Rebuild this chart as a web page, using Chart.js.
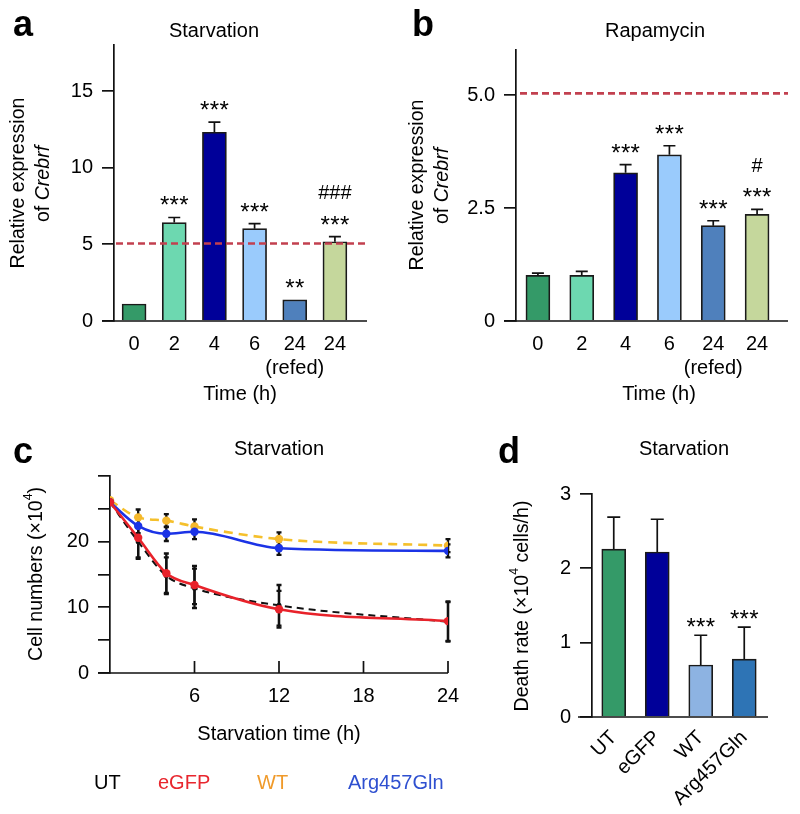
<!DOCTYPE html>
<html><head><meta charset="utf-8">
<script src="https://cdn.jsdelivr.net/npm/chart.js@4.4.1/dist/chart.umd.min.js"></script>
<style>
html,body{margin:0;padding:0;background:#fff;}
#wrap{position:relative;width:800px;height:814px;overflow:hidden;background:#fff;}
canvas{position:absolute;}
</style></head><body>
<div id="wrap">
<canvas id="ca" width="400" height="410" style="left:0;top:0"></canvas>
<canvas id="cb" width="400" height="410" style="left:400px;top:0"></canvas>
<canvas id="cc" width="480" height="404" style="left:0;top:410px"></canvas>
<canvas id="cd" width="320" height="404" style="left:480px;top:410px"></canvas>
</div>
<script>
// ---------- data ----------
// panel a (starvation) & b (rapamycin)
const timeLabels = ['0', '2', '4', '6', ['24', '(refed)'], '24'];
const starvationExpr = [1.11, 6.42, 12.31, 6.02, 1.38, 5.17];
const starvationErr  = [0, 0.33, 0.66, 0.33, 0, 0.33];
const starvationSig  = ['', '***', '***', '***', '**', '***'];
const starvationSig2 = ['', '', '', '', '', '###'];
const starvationRef  = 5.05;
const starvationYTicks = [0, 5, 10, 15];

const rapamycinExpr = [1.01, 1.01, 3.28, 3.68, 2.11, 2.36];
const rapamycinErr  = [0.05, 0.09, 0.18, 0.20, 0.11, 0.11];
const rapamycinSig  = ['', '', '***', '***', '***', '***'];
const rapamycinSig2 = ['', '', '', '', '', '#'];
const rapamycinRef  = 5.04;
const rapamycinYTicks = [0, 2.5, 5.0];
const rapamycinYLabels = ['0', '2.5', '5.0'];

// panel c (cell numbers)
const starvationHours = [0, 2, 4, 6, 12, 24];
const cellsUT     = [26.0, 20.0, 14.8, 12.9, 10.3, 7.8];
const cellsUTErr  = [0.4, 2.6, 2.8, 3.0, 3.1, 3.0];
const cellsEGFP   = [26.0, 20.6, 15.2, 13.4, 9.7, 7.9];
const cellsEGFPErr= [0.4, 3.0, 3.0, 2.9, 2.8, 3.0];
const cellsWT     = [26.3, 23.7, 23.2, 22.3, 20.4, 19.4];
const cellsWTErr  = [0.4, 1.2, 1.0, 1.1, 1.0, 1.0];
const cellsArg    = [26.0, 22.4, 21.2, 21.5, 19.0, 18.6];
const cellsArgErr = [0.4, 1.1, 1.1, 1.1, 1.0, 1.0];
const cellXTicks = [6, 12, 18, 24];
const cellYTicks = [0, 5, 10, 15, 20, 25, 30];
const cellYLabelled = [0, 10, 20];

// panel d (death rate)
const groups = ['UT', 'eGFP', 'WT', 'Arg457Gln'];
const deathRate    = [2.26, 2.22, 0.70, 0.78];
const deathRateErr = [0.43, 0.44, 0.40, 0.43];
const deathSig     = ['', '', '***', '***'];
const deathYTicks  = [0, 1, 2, 3];

// ---------- style ----------
const FONT = '"Liberation Sans", Arial, Helvetica, sans-serif';
const colorsAB = ['#349a68', '#6dd8b0', '#000099', '#9acbfc', '#4f80bc', '#c5d79c'];
const colorsD  = ['#349a68', '#000099', '#8db3e2', '#2e74b5'];
const FS = 20;
const tickFont = {family: FONT, size: FS};

function font(size, weight, style) { return (style || 'normal') + ' ' + (weight || 'normal') + ' ' + size + 'px ' + FONT; }
function txt(ctx, s, x, y, o) {
  o = o || {};
  ctx.save();
  ctx.font = font(o.size || FS, o.weight, o.style);
  ctx.fillStyle = o.color || '#000';
  ctx.textAlign = o.align || 'center';
  ctx.textBaseline = o.baseline || 'alphabetic';
  ctx.fillText(s, x, y);
  ctx.restore();
}
function rich(ctx, parts, cx, cy, size) {
  ctx.save();
  ctx.translate(cx, cy);
  ctx.rotate(-Math.PI / 2);
  ctx.textAlign = 'left';
  ctx.textBaseline = 'middle';
  ctx.fillStyle = '#000';
  let total = 0;
  const ws = parts.map(p => { ctx.font = font(p.sup ? size * 0.62 : size, 'normal', p.italic ? 'italic' : 'normal'); const w = ctx.measureText(p.t).width; total += w; return w; });
  let x = -total / 2;
  parts.forEach((p, i) => {
    ctx.font = font(p.sup ? size * 0.62 : size, 'normal', p.italic ? 'italic' : 'normal');
    ctx.fillText(p.t, x, p.sup ? -size * 0.42 : 0);
    x += ws[i];
  });
  ctx.restore();
}
function stars(ctx, s, cx, centerY, size, spacing) {
  if (!s) return;
  ctx.save();
  ctx.font = font(size);
  ctx.fillStyle = '#000';
  ctx.textAlign = 'center';
  ctx.textBaseline = 'alphabetic';
  const n = s.length;
  for (let i = 0; i < n; i++) {
    const x = cx + (i - (n - 1) / 2) * spacing;
    ctx.fillText(s[i], x, centerY + 0.58 * size);
  }
  ctx.restore();
}
function barErrors(chart, values, errs, cap) {
  const ctx = chart.ctx, y = chart.scales.y, meta = chart.getDatasetMeta(0);
  ctx.save(); ctx.strokeStyle = '#111'; ctx.lineWidth = 1.7;
  meta.data.forEach((bar, i) => {
    if (!errs[i]) return;
    const top = y.getPixelForValue(values[i] + errs[i]);
    const base = y.getPixelForValue(values[i]);
    ctx.beginPath();
    ctx.moveTo(bar.x, base); ctx.lineTo(bar.x, top);
    ctx.moveTo(bar.x - cap / 2, top); ctx.lineTo(bar.x + cap / 2, top);
    ctx.stroke();
  });
  ctx.restore();
}
function barSig(chart, values, errs, sig, sig2, gap) {
  const ctx = chart.ctx, y = chart.scales.y, meta = chart.getDatasetMeta(0);
  meta.data.forEach((bar, i) => {
    const top = y.getPixelForValue(values[i] + (errs[i] || 0));
    const c = top - gap;
    stars(ctx, sig[i], bar.x, c, 24, 9.7);
    if (sig2 && sig2[i]) {
      ctx.save(); ctx.font = font(FS); ctx.textAlign = 'center'; ctx.fillStyle = '#000';
      ctx.fillText(sig2[i], bar.x, c - 27 + 0.36 * FS); ctx.restore();
    }
  });
}
function baseline(chart, extL, extR) {
  const ctx = chart.ctx, a = chart.chartArea, y = chart.scales.y.getPixelForValue(0);
  ctx.save(); ctx.strokeStyle = '#111'; ctx.lineWidth = 1.7;
  ctx.beginPath(); ctx.moveTo(a.left - extL, y); ctx.lineTo(a.right + extR, y); ctx.stroke();
  ctx.restore();
}
function refLine(chart, v, x0, extR) {
  const ctx = chart.ctx, a = chart.chartArea, y = chart.scales.y.getPixelForValue(v);
  ctx.save(); ctx.strokeStyle = '#c2404f'; ctx.lineWidth = 2.6; ctx.setLineDash([7, 4]);
  ctx.beginPath(); ctx.moveTo(a.left + x0, y); ctx.lineTo(a.right + extR, y); ctx.stroke();
  ctx.restore();
}

function yAxis(min, max, ticks, width, labels) {
  return {
    min: min, max: max,
    grid: {drawOnChartArea: false, drawTicks: true, tickLength: 12, color: '#111', lineWidth: 1.7},
    border: {display: true, color: '#111', width: 1.7},
    ticks: {font: tickFont, color: '#000', padding: 9,
      callback: labels ? labels : (v) => String(v)},
    afterBuildTicks: s => { s.ticks = ticks.map(v => ({value: v})); },
    afterFit: s => { s.width = width; }
  };
}
function xCat(height, extra) {
  return Object.assign({
    grid: {display: false, drawTicks: false},
    border: {display: false},
    ticks: {font: tickFont, color: '#000', padding: 11, maxRotation: 0, minRotation: 0, autoSkip: false},
    afterFit: s => { s.height = height; }
  }, extra || {});
}
const common = {responsive: false, animation: false, devicePixelRatio: 1,
  plugins: {legend: {display: false}, tooltip: {enabled: false}}};

// ---------- panel a ----------
new Chart(document.getElementById('ca'), {
  type: 'bar',
  data: {labels: timeLabels, datasets: [{data: starvationExpr, backgroundColor: colorsAB,
    borderColor: '#1a1a1a', borderWidth: 1.7, barThickness: 24}]},
  options: Object.assign({}, common, {
    layout: {padding: {left: 0, right: 45, top: 45, bottom: 0}},
    scales: {x: xCat(89), y: yAxis(0, 18, starvationYTicks, 114)}
  }),
  plugins: [{
    id: 'decoA',
    afterDatasetsDraw(chart) {
      baseline(chart, 12, 12);
      barErrors(chart, starvationExpr, starvationErr, 12);
      refLine(chart, starvationRef, 2, 12);
      barSig(chart, starvationExpr, starvationErr, starvationSig, starvationSig2, 18);
    },
    afterDraw(chart) {
      const ctx = chart.ctx;
      txt(ctx, 'a', 13, 36, {size: 36, weight: 'bold', align: 'left'});
      txt(ctx, 'Starvation', 214, 37);
      txt(ctx, 'Time (h)', 240, 400);
      rich(ctx, [{t: 'Relative expression'}], 19, 183, 19.6);
      rich(ctx, [{t: 'of '}, {t: 'Crebrf', italic: true}], 44, 184, 19.6);
    }
  }]
});

// ---------- panel b ----------
new Chart(document.getElementById('cb'), {
  type: 'bar',
  data: {labels: timeLabels, datasets: [{data: rapamycinExpr, backgroundColor: colorsAB,
    borderColor: '#1a1a1a', borderWidth: 1.7, barThickness: 24}]},
  options: Object.assign({}, common, {
    layout: {padding: {left: 0, right: 21, top: 50, bottom: 0}},
    scales: {x: xCat(89), y: yAxis(0, 6, rapamycinYTicks, 116,
      (v) => rapamycinYLabels[rapamycinYTicks.indexOf(v)])}
  }),
  plugins: [{
    id: 'decoB',
    afterDatasetsDraw(chart) {
      baseline(chart, 12, 9);
      barErrors(chart, rapamycinExpr, rapamycinErr, 12);
      refLine(chart, rapamycinRef, 4, 9);
      barSig(chart, rapamycinExpr, rapamycinErr, rapamycinSig, rapamycinSig2, 18);
    },
    afterDraw(chart) {
      const ctx = chart.ctx;
      txt(ctx, 'b', 12, 36, {size: 36, weight: 'bold', align: 'left'});
      txt(ctx, 'Rapamycin', 255, 37);
      txt(ctx, 'Time (h)', 259, 400);
      rich(ctx, [{t: 'Relative expression'}], 17.5, 185, 19.6);
      rich(ctx, [{t: 'of '}, {t: 'Crebrf', italic: true}], 42.5, 186, 19.6);
    }
  }]
});

// ---------- panel c ----------
function pts(ys) { return starvationHours.map((t, i) => ({x: t, y: ys[i]})); }
const cellSeries = [
  {label: 'UT', data: pts(cellsUT), err: cellsUTErr, borderColor: '#111', borderDash: [7, 5], borderWidth: 2,
   pointRadius: 2.5, pointBackgroundColor: '#111', order: 3},
  {label: 'eGFP', data: pts(cellsEGFP), err: cellsEGFPErr, borderColor: '#e8222a', borderWidth: 2.6,
   pointRadius: 4.2, pointBackgroundColor: '#e8222a', order: 1},
  {label: 'WT', data: pts(cellsWT), err: cellsWTErr, borderColor: '#f5c02c', borderDash: [9, 6], borderWidth: 2.6,
   pointRadius: 4.2, pointBackgroundColor: '#f5b82c', order: 4},
  {label: 'Arg457Gln', data: pts(cellsArg), err: cellsArgErr, borderColor: '#1b33e6', borderWidth: 2.6,
   pointRadius: 4.2, pointBackgroundColor: '#1b33e6', order: 2}
];
cellSeries.forEach(d => { d.pointBorderWidth = 0; d.cubicInterpolationMode = 'monotone'; d.fill = false; });
const legendColors = ['#000', '#e8262e', '#f09a2a', '#2f50d0'];
new Chart(document.getElementById('cc'), {
  type: 'line',
  data: {datasets: cellSeries},
  options: Object.assign({}, common, {
    layout: {padding: {left: 0, right: 32, top: 66, bottom: 0}},
    scales: {
      x: {type: 'linear', min: 0, max: 24,
        grid: {display: false, drawTicks: false}, border: {display: false},
        ticks: {font: tickFont, color: '#000', padding: 11, maxRotation: 0},
        afterBuildTicks: s => { s.ticks = cellXTicks.map(v => ({value: v})); },
        afterFit: s => { s.height = 141; }},
      y: yAxis(0, 30, cellYTicks, 110, (v) => cellYLabelled.indexOf(v) >= 0 ? String(v) : '')
    }
  }),
  plugins: [{
    id: 'decoC',
    beforeDatasetsDraw(chart) {
      const ctx = chart.ctx, xs = chart.scales.x, ys = chart.scales.y, a = chart.chartArea;
      // axis line with extension and inward ticks
      ctx.save(); ctx.strokeStyle = '#111'; ctx.lineWidth = 1.7;
      ctx.beginPath(); ctx.moveTo(a.left - 12, a.bottom); ctx.lineTo(a.right, a.bottom);
      cellXTicks.forEach(v => { const px = xs.getPixelForValue(v); ctx.moveTo(px, a.bottom); ctx.lineTo(px, a.bottom - 12); });
      ctx.stroke();
      // error bars
      ctx.lineWidth = 2.3; ctx.strokeStyle = '#111';
      chart.data.datasets.forEach(ds => {
        ds.data.forEach((p, i) => {
          const e = ds.err[i]; if (!e || p.x === 0) return;
          const px = xs.getPixelForValue(p.x), t = ys.getPixelForValue(p.y + e), b = ys.getPixelForValue(p.y - e);
          ctx.beginPath(); ctx.moveTo(px, t); ctx.lineTo(px, b);
          ctx.moveTo(px - 2.5, t); ctx.lineTo(px + 2.5, t);
          ctx.moveTo(px - 2.5, b); ctx.lineTo(px + 2.5, b);
          ctx.stroke();
        });
      });
      ctx.restore();
    },
    afterDraw(chart) {
      const ctx = chart.ctx;
      txt(ctx, 'c', 13, 53, {size: 36, weight: 'bold', align: 'left'});
      txt(ctx, 'Starvation', 279, 45);
      txt(ctx, 'Starvation time (h)', 279, 330);
      rich(ctx, [{t: 'Cell numbers (\u00d710'}, {t: '4', sup: true}, {t: ')'}], 37, 164, 19.6);
      const lx = [94, 158, 257, 348];
      chart.data.datasets.forEach((ds, i) => txt(ctx, ds.label, lx[i], 379, {align: 'left', color: legendColors[i]}));
    }
  }]
});

// ---------- panel d ----------
new Chart(document.getElementById('cd'), {
  type: 'bar',
  data: {labels: groups, datasets: [{data: deathRate, backgroundColor: colorsD,
    borderColor: '#1a1a1a', borderWidth: 1.7, barThickness: 24}]},
  options: Object.assign({}, common, {
    layout: {padding: {left: 0, right: 34, top: 84, bottom: 0}},
    scales: {
      x: xCat(97, {ticks: {font: tickFont, color: '#000', padding: 9, maxRotation: 45, minRotation: 45, autoSkip: false}}),
      y: yAxis(0, 3, deathYTicks, 112)
    }
  }),
  plugins: [{
    id: 'decoD',
    afterDatasetsDraw(chart) {
      baseline(chart, 14, 2);
      barErrors(chart, deathRate, deathRateErr, 13);
      barSig(chart, deathRate, deathRateErr, deathSig, null, 14);
    },
    afterDraw(chart) {
      const ctx = chart.ctx;
      txt(ctx, 'd', 18, 53, {size: 36, weight: 'bold', align: 'left'});
      txt(ctx, 'Starvation', 204, 45);
      rich(ctx, [{t: 'Death rate (\u00d710'}, {t: '4', sup: true}, {t: ' cells/h)'}], 43, 196, 19.6);
    }
  }]
});
</script>
</body></html>
